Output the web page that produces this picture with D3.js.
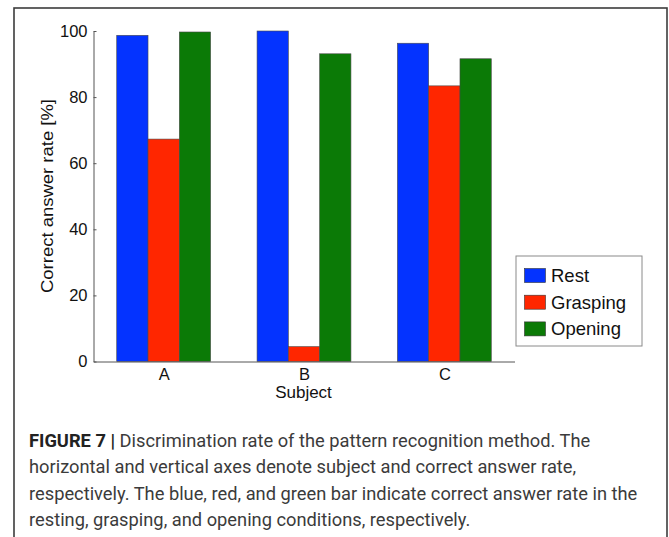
<!DOCTYPE html>
<html>
<head>
<meta charset="utf-8">
<script src="https://cdn.jsdelivr.net/npm/d3@7"></script>
<style>
  html, body { margin: 0; padding: 0; background: #fff; }
  svg { display: block; }
</style>
</head>
<body>
<svg id="chart" width="669" height="537"></svg>
<script>
// Subjects along the x axis
const subjects = ["A", "B", "C"];
// Correct answer rate [%] per condition, one value per subject
const rest = [98.7, 100, 96.3];
const grasping = [67.3, 4.5, 83.4];
const opening = [99.7, 93.1, 91.6];
const seriesNames = ["Rest", "Grasping", "Opening"];
const seriesColors = ["#0433ff", "#ff2600", "#0b7a06"];
const yTicks = [0, 20, 40, 60, 80, 100];
const captionBold = "FIGURE 7 |";
const captionLines = [
  " Discrimination rate of the pattern recognition method. The",
  "horizontal and vertical axes denote subject and correct answer rate,",
  "respectively. The blue, red, and green bar indicate correct answer rate in the",
  "resting, grasping, and opening conditions, respectively."
];

const series = [rest, grasping, opening];
const svg = d3.select("#chart");
const font = "'Liberation Sans', Arial, Helvetica, sans-serif";

// outer figure frame
svg.append("rect")
  .attr("x", 14).attr("y", 8).attr("width", 653).attr("height", 545)
  .attr("fill", "none").attr("stroke", "#3c3c3c").attr("stroke-width", 1.6);

// scales
const x = d3.scaleLinear().domain([0.5, 3.5]).range([93.5, 514.5]);
const y = d3.scaleLinear().domain([0, 100]).range([361.5, 31]);
const barW = 0.223; // bar width in category units

// bars
const g = svg.append("g");
series.forEach((vals, si) => {
  g.selectAll(null).data(vals).enter().append("rect")
    .attr("x", (d, i) => x(i + 1 + (si - 1) * barW - barW / 2))
    .attr("y", d => y(d))
    .attr("width", x(barW) - x(0))
    .attr("height", d => y(0) - y(d))
    .attr("fill", seriesColors[si])
    .attr("stroke", "#4a4a4a")
    .attr("stroke-width", 0.6);
});

// y axis (ticks pointing inward)
const yAxis = svg.append("g")
  .attr("transform", `translate(${x.range()[0]},0)`)
  .call(d3.axisLeft(y).tickValues(yTicks).tickSizeInner(-3).tickSizeOuter(0).tickPadding(6));
yAxis.select(".domain").attr("stroke", "#555").attr("stroke-width", 1);
yAxis.selectAll(".tick line").attr("stroke", "#555");
yAxis.selectAll(".tick text")
  .attr("font-family", font).attr("font-size", 16.5).attr("fill", "#111");

// x axis
const xAxis = svg.append("g")
  .attr("transform", `translate(0,${y(0)})`)
  .call(d3.axisBottom(x).tickValues([1, 2, 3]).tickFormat((d) => subjects[d - 1])
    .tickSizeInner(0).tickSizeOuter(0).tickPadding(7));
xAxis.select(".domain").attr("stroke", "#555").attr("stroke-width", 1);
xAxis.selectAll(".tick text")
  .attr("font-family", font).attr("font-size", 16.5).attr("fill", "#111");

// axis titles
svg.append("text")
  .attr("x", (x.range()[0] + x.range()[1]) / 2 - 0.5).attr("y", 398)
  .attr("text-anchor", "middle")
  .attr("font-family", font).attr("font-size", 17).attr("fill", "#111")
  .text("Subject");

svg.append("text")
  .attr("transform", `translate(53,196) rotate(-90)`)
  .attr("text-anchor", "middle")
  .attr("font-family", font).attr("font-size", 16).attr("fill", "#111")
  .attr("textLength", 194).attr("lengthAdjust", "spacingAndGlyphs")
  .text("Correct answer rate [%]");

// legend
const lg = svg.append("g");
lg.append("rect")
  .attr("x", 516).attr("y", 256).attr("width", 126).attr("height", 90)
  .attr("fill", "#fff").attr("stroke", "#8a8a8a").attr("stroke-width", 1);
seriesNames.forEach((name, i) => {
  const cy = 275.5 + i * 26.7;
  lg.append("rect")
    .attr("x", 524.5).attr("y", cy - 7).attr("width", 21).attr("height", 14)
    .attr("fill", seriesColors[i]).attr("stroke", "#333").attr("stroke-width", 0.6);
  lg.append("text")
    .attr("x", 551).attr("y", cy + 6.5)
    .attr("font-family", font).attr("font-size", 18.5).attr("fill", "#111")
    .text(name);
});

// caption
const cap = svg.append("g")
  .attr("font-family", "Roboto, 'Open Sans', sans-serif")
  .attr("font-size", 18.3).attr("fill", "#3b3b3b");
captionLines.forEach((line, i) => {
  const t = cap.append("text").attr("x", 29).attr("y", 447 + i * 26.3);
  if (i === 0) {
    t.append("tspan").attr("font-weight", "bold").attr("fill", "#222").text(captionBold);
  }
  t.append("tspan").text(line);
});
</script>
</body>
</html>
